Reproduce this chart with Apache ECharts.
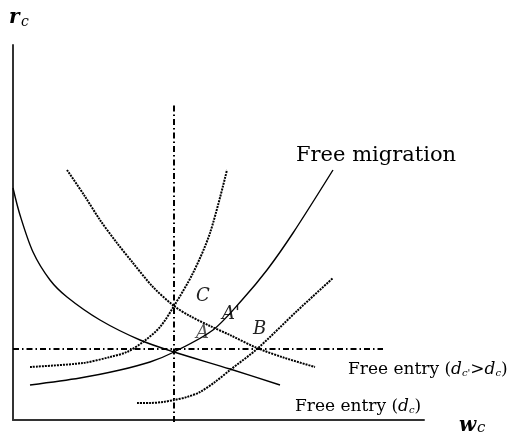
<!DOCTYPE html>
<html><head><meta charset="utf-8">
<script src="https://cdn.jsdelivr.net/npm/echarts@6/dist/echarts.min.js"></script>
<style>html,body{margin:0;padding:0;background:#fff}#c{width:511px;height:436px}</style>
</head><body><div id="c"></div>
<script>
// Schematic curves (data units: x = wage w_c, y = rent r_c)
const freeMigration = [[17,35],[67,42],[107,50],[137,58],[161,68],[200,90],[229,120],[254,150],[280,187],[320,250]];
const solidDecreasing = [[0,232],[7,205],[20,168],[37,140],[54,123],[87,100],[127,80],[161,68],[217,51],[267,35]];
const dottedDecreasing = [[54,250],[71,225],[87,200],[104,177],[120,157],[140,133],[161,114],[177,104],[197,94],[217,85],[244,72],[272,62],[302,53]];
const dottedSteep = [[17,53],[70,57],[97,63],[114,68],[130,78],[147,93],[161,114],[180,147],[197,187],[214,250]];
const dottedLower = [[124,17],[137,17],[150,18],[161,20],[174,23],[187,28],[202,38],[217,50],[244,71],[284,109],[320,142]];
const verticalRef = [[161,-2],[161,317]];
const horizontalRef = [[0,71],[370,71]];
const xMax = 411, yMax = 375;

const chart = echarts.init(document.getElementById('c'), null, {renderer:'canvas'});
const serif = 'DejaVu Serif';
const dashDot = [6,3,1.5,3];
const dotted = [2,1];
function line(data, type, width, smooth){
  return {type:'line', data, showSymbol:false, symbol:'none', smooth:smooth, silent:true, clip:false,
    lineStyle:{color:'#000', width, type}};
}
const entryRich = {t:{font:'17px '+serif,fill:'#000'},i:{font:'italic 17px '+serif,fill:'#000'},s:{font:'italic 10px '+serif,fill:'#000',verticalAlign:'bottom',padding:[7,0,0,0]}};
chart.setOption({
  animation:false,
  grid:{left:13,right:87,top:45,bottom:16},
  xAxis:{type:'value',min:0,max:xMax,axisLine:{show:true,lineStyle:{color:'#333',width:2}},axisTick:{show:false},axisLabel:{show:false},splitLine:{show:false}},
  yAxis:{type:'value',min:0,max:yMax,axisLine:{show:true,lineStyle:{color:'#333',width:2}},axisTick:{show:false},axisLabel:{show:false},splitLine:{show:false}},
  series:[
    line(verticalRef, dashDot, 2, false),
    line(horizontalRef, dashDot, 2, false),
    line(freeMigration, 'solid', 1.4, 0.3),
    line(solidDecreasing, 'solid', 1.4, 0.3),
    line(dottedDecreasing, dotted, 2, 0.3),
    line(dottedSteep, dotted, 2, 0.3),
    line(dottedLower, dotted, 2, 0.3)
  ],
  graphic:[
    {type:'text',left:9,top:8,style:{text:'r',font:'italic bold 20px '+serif,fill:'#000'}},
    {type:'text',left:21,top:15,style:{text:'c',font:'italic 14px '+serif,fill:'#000'}},
    {type:'text',left:459,top:416,style:{text:'w',font:'italic bold 20px '+serif,fill:'#000'}},
    {type:'text',left:477,top:421,style:{text:'c',font:'italic 15px '+serif,fill:'#000'}},
    {type:'text',left:296,top:145,style:{text:'Free migration',font:'21px '+serif,fill:'#000'}},
    {type:'text',left:196,top:287,style:{text:'C',font:'italic 18px '+serif,fill:'#222'}},
    {type:'text',left:222,top:305,style:{text:"A'",font:'italic 18px '+serif,fill:'#222'}},
    {type:'text',left:196,top:324,style:{text:'A',font:'italic 18px '+serif,fill:'#555'}},
    {type:'text',left:253,top:320,style:{text:'B',font:'italic 18px '+serif,fill:'#222'}},
    {type:'text',left:348,top:361,style:{text:'{t|Free entry (}{i|d}{s|c\'}{t|>}{i|d}{s|c}{t|)}',rich:entryRich}},
    {type:'text',left:295,top:398,style:{text:'{t|Free entry (}{i|d}{s|c}{t|)}',rich:entryRich}}
  ]
});
</script></body></html>
